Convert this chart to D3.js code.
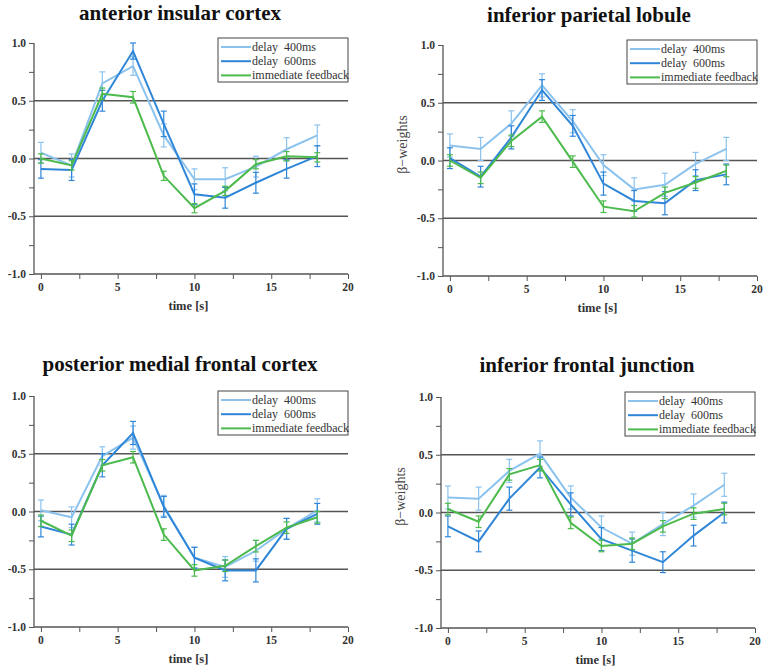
<!DOCTYPE html>
<html>
<head>
<meta charset="utf-8">
<script src="https://cdn.jsdelivr.net/npm/d3@7"></script>
<style>
  body { margin: 0; background: #fff; }
  svg { display: block; }
  .tick-lbl { font-family: "Liberation Serif", "Times New Roman", serif; font-weight: bold; font-size: 11.5px; fill: #333; }
  .title { font-family: "Liberation Serif", "Times New Roman", serif; font-weight: bold; font-size: 21px; fill: #111; }
  .xlab { font-family: "Liberation Serif", "Times New Roman", serif; font-weight: bold; font-size: 12.5px; fill: #333; }
  .ylab { font-family: "Liberation Serif", "Times New Roman", serif; font-size: 14px; fill: #444; }
  .leg { font-family: "Liberation Serif", "Times New Roman", serif; font-size: 12px; fill: #333; }
</style>
</head>
<body>
<div id="plot"></div>
<script>
var times = [0, 2, 4, 6, 8, 10, 12, 14, 16, 18];
var seriesNames = ['delay  400ms', 'delay  600ms', 'immediate feedback'];
var seriesColors = ['#8cc3ee', '#2f86d8', '#4cba4c'];
var yTicks = [1.0, 0.5, 0.0, -0.5, -1.0];
var xTicks = [0, 5, 10, 15, 20];
var refLines = [0.5, 0, -0.5];

// anterior insular cortex
var aicD400 = [0.05, -0.06, 0.65, 0.80, 0.20, -0.18, -0.18, -0.07, 0.08, 0.20];
var aicD400Err = [0.09, 0.10, 0.10, 0.08, 0.10, 0.09, 0.10, 0.09, 0.10, 0.09];
var aicD600 = [-0.09, -0.10, 0.50, 0.93, 0.30, -0.31, -0.34, -0.21, -0.09, 0.02];
var aicD600Err = [0.08, 0.09, 0.09, 0.07, 0.11, 0.09, 0.09, 0.09, 0.08, 0.09];
var aicImm = [0.00, -0.06, 0.56, 0.53, -0.15, -0.43, -0.28, -0.05, 0.02, 0.01];
var aicImmErr = [0.04, 0.04, 0.05, 0.05, 0.04, 0.04, 0.04, 0.04, 0.04, 0.04];

// inferior parietal lobule
var iplD400 = [0.13, 0.10, 0.32, 0.65, 0.34, -0.04, -0.25, -0.21, -0.03, 0.10];
var iplD400Err = [0.10, 0.10, 0.11, 0.10, 0.10, 0.09, 0.10, 0.10, 0.10, 0.10];
var iplD600 = [0.02, -0.14, 0.20, 0.61, 0.30, -0.20, -0.35, -0.37, -0.17, -0.12];
var iplD600Err = [0.09, 0.09, 0.10, 0.09, 0.09, 0.10, 0.09, 0.10, 0.09, 0.09];
var iplImm = [0.00, -0.15, 0.17, 0.38, -0.01, -0.40, -0.44, -0.28, -0.19, -0.09];
var iplImmErr = [0.05, 0.05, 0.05, 0.05, 0.05, 0.05, 0.05, 0.05, 0.05, 0.05];

// posterior medial frontal cortex
var pmfcD400 = [0.01, -0.05, 0.48, 0.64, 0.05, -0.40, -0.48, -0.34, -0.15, 0.01];
var pmfcD400Err = [0.09, 0.09, 0.08, 0.10, 0.09, 0.09, 0.09, 0.09, 0.09, 0.10];
var pmfcD600 = [-0.13, -0.20, 0.40, 0.68, 0.04, -0.40, -0.51, -0.51, -0.15, -0.02];
var pmfcD600Err = [0.09, 0.09, 0.10, 0.10, 0.09, 0.09, 0.09, 0.10, 0.09, 0.09];
var pmfcImm = [-0.08, -0.21, 0.40, 0.47, -0.20, -0.51, -0.47, -0.30, -0.14, -0.05];
var pmfcImmErr = [0.05, 0.05, 0.05, 0.05, 0.05, 0.05, 0.05, 0.05, 0.05, 0.05];

// inferior frontal junction
var ifjD400 = [0.13, 0.12, 0.36, 0.51, 0.13, -0.13, -0.27, -0.10, 0.06, 0.24];
var ifjD400Err = [0.10, 0.10, 0.10, 0.11, 0.10, 0.10, 0.10, 0.10, 0.10, 0.10];
var ifjD600 = [-0.12, -0.25, 0.12, 0.39, 0.07, -0.23, -0.33, -0.43, -0.20, 0.00];
var ifjD600Err = [0.09, 0.09, 0.10, 0.09, 0.10, 0.10, 0.10, 0.09, 0.09, 0.09];
var ifjImm = [0.03, -0.08, 0.33, 0.41, -0.09, -0.29, -0.27, -0.12, -0.01, 0.03];
var ifjImmErr = [0.05, 0.05, 0.05, 0.05, 0.05, 0.05, 0.05, 0.05, 0.05, 0.05];

var panels = [
  { title: 'anterior insular cortex', left: 34, top: 43, ylabel: false,
    series: [aicD400, aicD600, aicImm], errs: [aicD400Err, aicD600Err, aicImmErr] },
  { title: 'inferior parietal lobule', left: 443, top: 45, ylabel: true,
    series: [iplD400, iplD600, iplImm], errs: [iplD400Err, iplD600Err, iplImmErr] },
  { title: 'posterior medial frontal cortex', left: 34, top: 396, ylabel: false,
    series: [pmfcD400, pmfcD600, pmfcImm], errs: [pmfcD400Err, pmfcD600Err, pmfcImmErr] },
  { title: 'inferior frontal junction', left: 441, top: 397, ylabel: true,
    series: [ifjD400, ifjD600, ifjImm], errs: [ifjD400Err, ifjD600Err, ifjImmErr] }
];

var width = 314, height = 231;

var svg = d3.select("#plot")
  .append("svg")
  .attr("width", 768)
  .attr("height", 666);

var x = d3.scaleLinear().domain([-0.45, 20]).range([0, width]);
var y = d3.scaleLinear().domain([-1, 1]).range([height, 0]);

panels.forEach(function (p) {
  var g = svg.append("g").attr("transform", `translate(${p.left}, ${p.top})`);

  // title
  g.append("text")
    .attr("class", "title")
    .attr("x", width / 2 - 11)
    .attr("y", p.top < 100 ? -23 : -25)
    .attr("text-anchor", "middle")
    .text(p.title);

  // reference lines
  g.selectAll("line.ref")
    .data(refLines)
    .enter()
    .append("line")
    .attr("x1", 0).attr("x2", width)
    .attr("y1", function (d) { return y(d); })
    .attr("y2", function (d) { return y(d); })
    .style("stroke", "#555")
    .style("stroke-width", 1.3);

  // y axis with minor ticks
  var yAxis = g.append("g")
    .call(d3.axisLeft(y).tickValues(d3.range(-1, 1.01, 0.25)).tickSize(5).tickFormat(""));
  yAxis.select(".domain").attr("d", `M0,0V${height}`).style("stroke", "#555").style("stroke-width", 1.3);
  yAxis.selectAll(".tick line").style("stroke", "#555");

  g.selectAll("text.ytl")
    .data(yTicks)
    .enter()
    .append("text")
    .attr("class", "tick-lbl")
    .attr("x", -8)
    .attr("y", function (d) { return y(d) + 4; })
    .attr("text-anchor", "end")
    .text(function (d) { return d3.format(".1f")(d).replace("−", "-"); });

  // x axis with minor ticks
  var xAxis = g.append("g")
    .attr("transform", `translate(0, ${height})`)
    .call(d3.axisBottom(x).tickValues(d3.range(0, 20.1, 2.5)).tickSize(5).tickFormat(""));
  xAxis.select(".domain").attr("d", `M0,0H${width}`).style("stroke", "#555").style("stroke-width", 1.3);
  xAxis.selectAll(".tick line").style("stroke", "#555");

  g.selectAll("text.xtl")
    .data(xTicks)
    .enter()
    .append("text")
    .attr("class", "tick-lbl")
    .attr("x", function (d) { return x(d); })
    .attr("y", height + 17)
    .attr("text-anchor", "middle")
    .text(function (d) { return d; });

  g.append("text")
    .attr("class", "xlab")
    .attr("x", x(10) - 6)
    .attr("y", height + 36)
    .attr("text-anchor", "middle")
    .text("time [s]");

  if (p.ylabel) {
    g.append("text")
      .attr("class", "ylab")
      .attr("transform", `translate(-36, ${height / 2 - 16}) rotate(-90)`)
      .attr("text-anchor", "middle")
      .text("β−weights");
  }

  // series
  var line = d3.line()
    .x(function (d, i) { return x(times[i]); })
    .y(function (d) { return y(d); });

  p.series.forEach(function (vals, k) {
    var col = seriesColors[k];
    var err = p.errs[k];
    var eb = g.append("g");
    times.forEach(function (t, i) {
      var cx = x(t);
      var lo = y(vals[i] - err[i]), hi = y(vals[i] + err[i]);
      eb.append("line").attr("x1", cx).attr("x2", cx).attr("y1", lo).attr("y2", hi)
        .style("stroke", col).style("stroke-width", 1.2);
      eb.append("line").attr("x1", cx - 3).attr("x2", cx + 3).attr("y1", lo).attr("y2", lo)
        .style("stroke", col).style("stroke-width", 1.2);
      eb.append("line").attr("x1", cx - 3).attr("x2", cx + 3).attr("y1", hi).attr("y2", hi)
        .style("stroke", col).style("stroke-width", 1.2);
    });
    g.append("path")
      .datum(vals)
      .attr("d", line)
      .style("fill", "none")
      .style("stroke", col)
      .style("stroke-width", 2);
  });

  // legend
  var lw = 130, lh = 44;
  var leg = g.append("g").attr("transform", `translate(${width - lw}, -5)`);
  leg.append("rect")
    .attr("width", lw).attr("height", lh)
    .style("fill", "#fff")
    .style("stroke", "#444")
    .style("stroke-width", 1);
  seriesNames.forEach(function (name, k) {
    var ly = 9 + k * 14.2;
    leg.append("line")
      .attr("x1", 3).attr("x2", 33).attr("y1", ly).attr("y2", ly)
      .style("stroke", seriesColors[k]).style("stroke-width", 2);
    leg.append("text")
      .attr("class", "leg")
      .attr("x", 34)
      .attr("y", ly + 4)
      .style("white-space", "pre")
      .text(name);
  });
});
</script>
</body>
</html>
